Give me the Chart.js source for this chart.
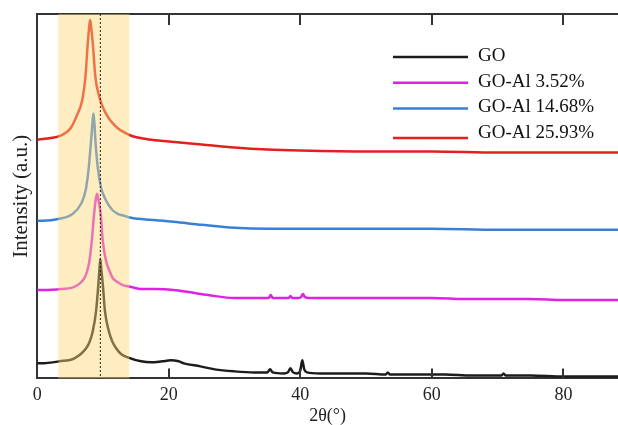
<!DOCTYPE html>
<html>
<head>
    <script src="https://cdn.jsdelivr.net/npm/chart.js@4.4.0/dist/chart.umd.min.js"></script>
    <style>
        body {
            margin: 0;
            background: #fff;
        }
        .wrap {
            width: 618px;
            height: 425px;
        }
    </style>
</head>
<body>
    <div class="wrap">
        <canvas id="xrd"></canvas>
    </div>

    <script>
        // XRD patterns, stacked with offsets (a.u.)
        const labels = ['GO', 'GO-Al 3.52%', 'GO-Al 14.68%', 'GO-Al 25.93%'];
        const colors = ['#1c1c1c', '#e020e4', '#3a7fd6', '#e4201f'];

        const goX = [0, 0.6, 3.38, 5.66, 7.44, 8.0, 8.45, 8.95, 9.3, 9.45, 9.6, 9.75, 9.97, 10.3, 10.9, 11.4, 12, 12.8, 13.76, 15.8, 17.3, 19, 20.3, 21.5, 22.3, 24.8, 27, 30, 33, 35, 35.4, 35.8, 37.5, 38.1, 38.5, 38.9, 39.5, 40.0, 40.3, 40.6, 41, 43, 46, 50, 53, 53.3, 53.6, 57, 62, 66, 70.6, 70.9, 71.2, 75, 80, 84, 88.3];
        const goY = [15, 15, 17, 20, 30, 37, 47, 67, 94, 108, 119, 108, 94, 67, 47, 37, 30, 24, 21, 17, 16, 17, 18, 17, 15, 12, 9, 7, 6, 6, 9, 6, 5, 6, 10, 6, 5, 8, 18, 9, 6, 5, 5, 5, 4, 6, 4, 4, 4, 3, 3, 5, 3, 3, 2, 2, 2];

        const magX = [0, 0.6, 3.64, 5.92, 7.18, 7.6, 7.94, 8.3, 8.65, 8.9, 9.1, 9.3, 9.65, 9.97, 10.47, 11.0, 11.48, 12.2, 13, 14.3, 15.8, 18, 20.7, 23, 26, 30, 33, 35.2, 35.5, 35.8, 37.5, 38.2, 38.5, 38.8, 39.6, 40.1, 40.4, 40.7, 41.3, 45, 50, 55, 60, 65, 70, 75, 80, 88.3];
        const magY = [88, 88, 89, 92, 100, 107, 117, 137, 164, 178, 184, 178, 164, 137, 117, 107, 100, 96, 93, 91, 89, 89, 88, 86, 83, 80, 80, 80, 83, 80, 80, 80, 82, 80, 80, 81, 84, 81, 80, 80, 80, 80, 80, 79, 79, 79, 78, 78];

        const bluX = [0, 0.86, 3.38, 5.42, 6.68, 7.1, 7.44, 7.84, 8.19, 8.4, 8.55, 8.7, 8.85, 9.21, 9.71, 10.2, 10.73, 11.4, 12.25, 13.2, 14.26, 15.3, 17, 20.7, 25, 30, 35, 42.5, 50, 60, 70, 80, 88.3];
        const bluY = [157, 157, 159, 164, 174, 181, 190, 210, 237, 254, 264, 254, 237, 210, 190, 181, 174, 168, 164, 162, 160, 159, 158, 156, 153, 150, 149, 149, 149, 149, 148, 148, 148];

        const redX = [0, 1.6, 3.64, 5.16, 6.17, 6.6, 6.93, 7.33, 7.69, 7.9, 8.04, 8.2, 8.45, 8.85, 9.3, 9.7, 10.2, 10.8, 11.5, 12.3, 13.25, 14.2, 15.3, 17, 20, 25, 30, 35, 40, 50, 60, 70, 80, 88.3];
        const redY = [238, 239, 242, 250, 264, 271, 280, 300, 334, 350, 357, 350, 334, 300, 284, 275, 267, 260, 254, 249, 245, 242, 240, 238, 236, 233, 230, 228, 227, 226, 226, 225, 225, 225];

        const bandRange = [3.2, 14.0];
        const markerX = 9.6;
        const xTicks = [0, 20, 40, 60, 80];

        const serif = 'Liberation Serif';

        function pts(xs, ys) {
            return xs.map((x, i) => ({ x: x, y: ys[i] }));
        }

        const series = [pts(goX, goY), pts(magX, magY), pts(bluX, bluY), pts(redX, redY)];

        // yellow band + dotted marker, inward ticks, legend
        const decor = {
            id: 'decor',
            afterDatasetsDraw(chart) {
                const ctx = chart.ctx;
                const a = chart.chartArea;
                const x = chart.scales.x;
                const x0 = x.getPixelForValue(bandRange[0]);
                const x1 = x.getPixelForValue(bandRange[1]);
                ctx.save();
                ctx.fillStyle = 'rgba(250, 214, 118, 0.45)';
                ctx.fillRect(x0, a.top, x1 - x0, a.bottom - a.top);

                const mx = x.getPixelForValue(markerX);
                ctx.strokeStyle = '#222';
                ctx.lineWidth = 1;
                ctx.setLineDash([2, 2]);
                ctx.beginPath();
                ctx.moveTo(mx, a.top);
                ctx.lineTo(mx, a.bottom);
                ctx.stroke();
                ctx.restore();
            },
            afterDraw(chart) {
                const ctx = chart.ctx;
                const a = chart.chartArea;
                const x = chart.scales.x;
                ctx.save();
                ctx.strokeStyle = '#333';
                ctx.lineWidth = 2;
                xTicks.forEach(v => {
                    if (v === 0) return;
                    const px = Math.round(x.getPixelForValue(v));
                    ctx.beginPath();
                    ctx.moveTo(px, a.bottom);
                    ctx.lineTo(px, a.bottom - 10);
                    ctx.moveTo(px, a.top);
                    ctx.lineTo(px, a.top + 11);
                    ctx.stroke();
                });

                // legend
                const lx = 393, ly = 56, gap = 25.7;
                ctx.font = '19px "' + serif + '"';
                ctx.textBaseline = 'middle';
                ctx.fillStyle = '#111';
                chart.data.datasets.forEach((ds, i) => {
                    const y = ly + i * gap;
                    ctx.strokeStyle = ds.borderColor;
                    ctx.lineWidth = 2.5;
                    ctx.beginPath();
                    ctx.moveTo(lx, y + (i === 3 ? 5 : 1));
                    ctx.lineTo(lx + 75, y + (i === 3 ? 5 : 1));
                    ctx.stroke();
                    ctx.fillText(ds.label, lx + 85, y);
                });
                ctx.restore();
            }
        };

        const ctx = document.getElementById('xrd').getContext('2d');
        new Chart(ctx, {
            type: 'line',
            data: {
                datasets: series.map((d, i) => ({
                    label: labels[i],
                    data: d,
                    borderColor: colors[i],
                    borderWidth: 2.5,
                    pointRadius: 0,
                    fill: false,
                    cubicInterpolationMode: 'monotone'
                }))
            },
            options: {
                responsive: true,
                maintainAspectRatio: false,
                animation: false,
                layout: {
                    padding: { top: 14, left: 0, right: 0, bottom: 0 }
                },
                plugins: {
                    legend: { display: false },
                    tooltip: { enabled: false }
                },
                scales: {
                    x: {
                        type: 'linear',
                        min: 0,
                        max: 88.3,
                        afterBuildTicks(scale) {
                            scale.ticks = xTicks.map(v => ({ value: v }));
                        },
                        grid: { display: false, drawTicks: false },
                        border: { display: true, color: '#333', width: 2 },
                        ticks: {
                            color: '#222',
                            padding: 6,
                            font: { family: serif, size: 18 }
                        },
                        title: {
                            display: true,
                            text: '2θ(°)',
                            color: '#222',
                            padding: { top: -5, bottom: 0 },
                            font: { family: serif, size: 18, lineHeight: 1.0 }
                        }
                    },
                    top: {
                        type: 'linear',
                        position: 'top',
                        min: 0,
                        max: 88.3,
                        grid: { display: false, drawTicks: false },
                        border: { display: true, color: '#333', width: 2 },
                        ticks: { display: false }
                    },
                    y: {
                        min: 0,
                        max: 363,
                        grid: { display: false, drawTicks: false },
                        border: { display: true, color: '#333', width: 2 },
                        ticks: { display: false },
                        title: {
                            display: true,
                            text: 'Intensity (a.u.)',
                            color: '#222',
                            padding: { top: 9, bottom: 3 },
                            font: { family: serif, size: 21 }
                        }
                    }
                }
            },
            plugins: [decor]
        });
    </script>
</body>
</html>
